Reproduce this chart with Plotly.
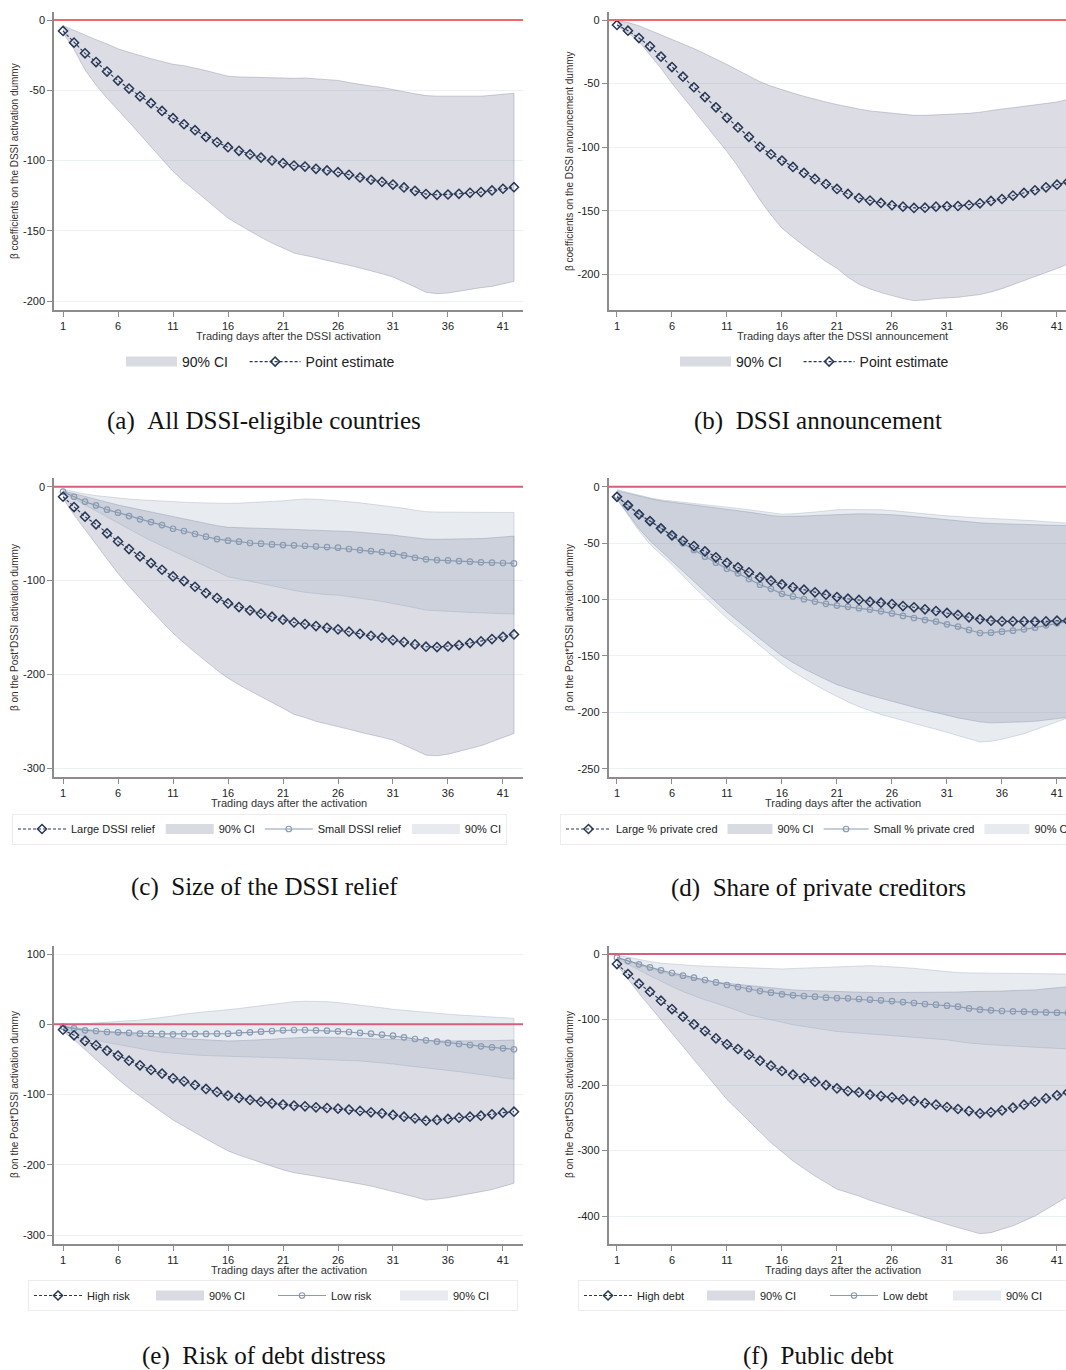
import plotly.graph_objects as go

# ---------------- data ----------------
days = list(range(1, 43))
xtick_vals = [1, 6, 11, 16, 21, 26, 31, 36, 41]

# (a) All DSSI-eligible countries
a_point = [-7.8, -16.1, -23.7, -29.9, -36.7, -43.1, -48.8, -54.3, -59.2, -64.7, -69.9, -74.2, -78.4, -83.2,
           -87.0, -90.5, -93.1, -95.7, -97.9, -100.0, -101.9, -103.6, -104.3, -105.9, -107.1, -108.3, -110.2,
           -112.1, -113.7, -115.2, -117.1, -119.2, -121.6, -123.9, -124.4, -124.2, -123.7, -123.0, -122.5,
           -121.3, -120.1, -119.0]
a_upper = [-4.0, -7.5, -11.0, -14.0, -17.0, -20.5, -23.0, -25.5, -27.5, -29.5, -31.5, -32.5, -34.0, -36.0,
           -38.0, -40.0, -40.5, -40.8, -41.0, -41.3, -41.5, -41.5, -41.3, -41.8, -42.5, -43.0, -44.5, -46.0,
           -47.0, -48.0, -49.3, -51.0, -52.5, -53.8, -54.2, -54.3, -54.5, -54.5, -54.2, -53.6, -53.0, -52.1]
a_lower = [-9.0, -20.9, -35.5, -46.2, -55.7, -64.0, -72.6, -81.3, -90.0, -98.8, -107.8, -114.9, -121.3, -128.0,
           -134.6, -141.0, -145.7, -150.5, -154.7, -158.8, -162.3, -165.9, -167.5, -169.2, -171.1, -173.0,
           -174.6, -176.5, -178.4, -180.6, -182.9, -186.3, -190.0, -193.8, -194.8, -194.3, -193.4, -191.7,
           -190.5, -189.6, -187.9, -186.0]

# (b) DSSI announcement
b_point = [-3.9, -8.4, -14.2, -20.7, -28.8, -37.0, -44.6, -52.9, -60.6, -68.7, -76.9, -84.5, -91.9, -99.7,
           -105.6, -110.6, -115.6, -120.3, -125.0, -129.0, -132.9, -136.8, -140.0, -142.0, -143.9, -145.7,
           -146.8, -147.8, -147.6, -146.8, -146.5, -146.3, -145.5, -144.2, -142.3, -140.8, -138.1, -136.0,
           -133.9, -131.6, -129.5, -127.4]
b_upper = [-0.5, -2.0, -4.5, -8.0, -11.8, -15.5, -19.0, -22.5, -26.5, -30.5, -35.0, -39.5, -44.0, -48.5,
           -52.0, -55.0, -57.5, -60.0, -62.5, -64.5, -66.5, -68.5, -70.0, -71.5, -72.5, -73.5, -74.3, -75.0,
           -75.0, -74.7, -74.3, -74.0, -73.4, -72.5, -71.0, -70.0, -69.0, -67.8, -67.0, -66.0, -64.5, -62.5]
b_lower = [-4.7, -10.0, -17.0, -27.5, -38.0, -49.8, -60.6, -71.4, -82.0, -92.8, -103.5, -115.3, -128.4, -141.5,
           -153.3, -163.8, -170.9, -177.7, -184.0, -190.0, -195.3, -202.4, -207.9, -211.5, -214.4, -216.8,
           -219.1, -220.7, -220.2, -219.1, -218.6, -218.1, -217.0, -216.0, -213.9, -211.3, -208.4, -205.2,
           -201.8, -198.7, -195.5, -191.9]

# (c) Size of the DSSI relief
c_large = [-10.7, -21.7, -32.0, -40.1, -49.7, -58.3, -66.4, -74.2, -81.4, -88.5, -95.6, -100.5, -106.6, -113.3,
           -118.6, -124.3, -128.2, -131.8, -135.3, -138.5, -141.7, -144.6, -146.4, -148.5, -150.3, -152.0,
           -154.5, -156.7, -158.8, -160.9, -163.4, -165.5, -168.0, -170.5, -170.9, -170.2, -168.7, -166.6,
           -164.8, -162.3, -159.9, -157.4]
c_large_upper = [-4.3, -7.5, -10.7, -13.5, -16.5, -19.5, -22.0, -24.5, -27.0, -29.5, -32.0, -34.5, -37.0, -39.5,
                 -41.5, -43.3, -43.8, -44.2, -44.5, -44.8, -45.1, -45.5, -45.8, -46.2, -46.5, -46.9, -47.7,
                 -48.5, -49.3, -50.2, -51.5, -53.0, -54.5, -55.8, -56.0, -56.0, -56.0, -55.8, -55.3, -54.5,
                 -53.5, -52.6]
c_large_lower = [-12.4, -30.0, -46.0, -61.5, -77.0, -92.4, -106.0, -119.0, -132.0, -144.0, -156.0, -166.5,
                 -176.5, -186.5, -195.5, -204.0, -211.0, -217.5, -224.0, -230.0, -236.0, -242.6, -246.0,
                 -250.0, -253.0, -255.8, -258.5, -261.5, -264.5, -267.0, -270.0, -275.0, -280.5, -286.0,
                 -286.7, -285.0, -282.4, -279.0, -276.0, -271.8, -267.5, -262.9]
c_small = [-5.3, -10.7, -16.0, -19.9, -24.5, -27.7, -31.3, -34.8, -37.7, -40.9, -44.8, -47.2, -50.4, -53.3,
           -55.8, -57.5, -58.6, -60.0, -60.7, -61.5, -62.2, -62.5, -62.9, -63.6, -64.3, -65.0, -66.4, -67.5,
           -68.6, -69.6, -71.4, -73.2, -75.7, -77.4, -78.2, -78.5, -79.2, -79.9, -80.6, -81.0, -81.3, -81.7]
c_small_upper = [-2.8, -5.5, -7.8, -9.5, -11.0, -12.4, -13.2, -14.0, -14.8, -15.5, -16.0, -16.5, -17.0, -17.5,
                 -17.8, -17.8, -17.5, -17.0, -16.5, -16.0, -15.0, -14.0, -13.1, -13.3, -14.0, -15.0, -16.0,
                 -17.2, -18.5, -19.8, -21.3, -23.0, -25.0, -26.6, -27.0, -27.2, -27.4, -27.4, -27.4, -27.4,
                 -27.4, -27.4]
c_small_lower = [-7.0, -13.0, -19.5, -26.0, -32.5, -39.0, -45.0, -51.5, -57.5, -63.5, -69.3, -74.5, -80.0, -85.0,
                 -90.5, -95.9, -98.5, -101.0, -103.5, -106.0, -108.0, -110.5, -112.5, -114.0, -115.0, -115.5,
                 -117.0, -118.8, -120.5, -122.3, -124.3, -126.5, -129.0, -131.5, -132.2, -132.8, -133.4,
                 -134.0, -134.5, -135.0, -135.4, -135.7]

# (d) Share of private creditors
d_large = [-8.9, -16.5, -24.5, -30.4, -36.9, -43.1, -47.9, -52.6, -57.3, -62.6, -67.4, -71.5, -75.9, -80.4,
           -83.3, -86.6, -89.2, -91.3, -93.6, -95.7, -97.8, -99.3, -100.4, -101.9, -102.8, -104.0, -105.8,
           -106.9, -108.7, -110.2, -111.9, -113.7, -115.8, -117.5, -118.8, -119.4, -119.4, -119.4, -119.6,
           -119.4, -118.8, -118.8]
d_large_upper = [-3.5, -6.0, -8.5, -10.5, -12.5, -13.7, -14.8, -16.2, -17.5, -18.7, -19.8, -21.2, -22.5, -24.0,
                 -25.5, -26.3, -26.3, -26.0, -25.5, -25.0, -24.5, -24.2, -24.0, -24.1, -24.3, -24.8, -25.5,
                 -26.5, -27.5, -28.5, -29.5, -30.5, -31.5, -32.0, -32.5, -32.9, -33.2, -33.5, -33.8, -34.0,
                 -34.2, -34.4]
d_large_lower = [-11.0, -24.0, -37.0, -48.0, -57.0, -66.0, -75.0, -84.0, -93.0, -102.0, -111.0, -119.0, -127.0,
                 -135.0, -142.5, -150.0, -156.0, -161.5, -166.5, -171.0, -175.5, -179.0, -182.0, -185.0,
                 -188.0, -190.5, -193.0, -195.5, -198.0, -200.5, -202.6, -205.0, -207.0, -208.5, -209.4,
                 -209.3, -209.0, -208.5, -208.0, -207.0, -205.6, -204.5]
d_small = [-8.3, -16.2, -24.5, -30.4, -37.2, -43.4, -50.2, -56.1, -62.0, -67.4, -72.7, -76.8, -81.8, -86.9,
           -90.5, -95.0, -97.3, -99.7, -101.8, -103.8, -105.4, -106.5, -107.7, -108.9, -110.5, -112.3, -114.6,
           -116.4, -118.2, -119.6, -122.0, -124.0, -127.0, -129.7, -129.4, -128.5, -127.6, -126.4, -125.0,
           -122.9, -121.1, -119.6]
d_small_upper = [-2.7, -5.2, -7.7, -9.8, -11.6, -12.6, -13.6, -14.8, -16.0, -17.0, -18.0, -19.2, -20.4, -21.9,
                 -23.4, -24.3, -24.0, -23.4, -22.4, -21.4, -20.4, -20.2, -20.1, -20.2, -20.4, -21.1, -21.9,
                 -23.0, -24.0, -24.9, -25.8, -26.6, -27.3, -27.7, -28.1, -28.5, -29.0, -29.6, -30.2, -31.0,
                 -31.7, -32.2]
d_small_lower = [-11.0, -25.0, -39.0, -51.0, -60.0, -69.0, -79.0, -89.0, -98.5, -107.5, -116.7, -125.0, -133.0,
                 -141.0, -149.0, -157.0, -164.0, -170.0, -175.5, -181.0, -186.0, -190.8, -195.0, -198.5,
                 -202.0, -205.0, -207.5, -210.0, -212.5, -215.0, -217.5, -220.5, -223.5, -226.3, -225.7,
                 -224.0, -221.5, -219.0, -216.0, -212.5, -208.5, -205.0]

# (e) Risk of debt distress
e_high = [-7.6, -15.6, -23.7, -29.9, -37.4, -44.5, -51.7, -58.3, -64.9, -70.1, -76.8, -81.0, -86.3, -91.9,
          -96.2, -101.4, -104.7, -107.6, -110.0, -112.3, -114.2, -115.6, -116.6, -118.0, -119.0, -119.9, -121.3,
          -123.2, -125.1, -126.5, -128.9, -131.3, -133.6, -137.0, -136.0, -134.6, -132.7, -131.3, -129.9,
          -128.0, -125.6, -124.2]
e_high_upper = [-2.4, -4.8, -7.0, -9.0, -11.0, -12.6, -14.2, -15.8, -17.2, -18.5, -19.5, -20.5, -21.3, -22.3,
                -23.2, -23.7, -23.3, -22.8, -22.3, -21.2, -20.0, -19.0, -18.5, -18.2, -18.0, -18.6, -19.3,
                -19.9, -20.4, -20.8, -21.3, -22.0, -22.6, -23.2, -23.5, -23.6, -23.7, -23.5, -23.4, -23.2,
                -22.8, -22.3]
e_high_lower = [-10.0, -22.0, -36.0, -50.0, -64.0, -78.0, -91.0, -103.0, -114.0, -125.0, -136.0, -145.0,
                -154.0, -163.0, -172.0, -180.0, -186.0, -191.5, -197.0, -202.0, -207.0, -211.0, -213.5,
                -216.0, -218.5, -221.0, -224.0, -227.0, -230.0, -233.5, -237.5, -241.5, -245.5, -250.0,
                -248.5, -246.5, -244.0, -241.0, -238.0, -235.0, -231.0, -226.0]
e_low = [-3.3, -5.7, -8.5, -9.5, -10.9, -11.4, -12.3, -13.3, -13.3, -13.7, -14.2, -13.7, -13.7, -13.7, -13.3,
         -13.3, -12.3, -11.4, -10.4, -9.5, -8.5, -8.1, -8.1, -8.5, -9.0, -10.0, -10.9, -12.3, -13.3, -14.7,
         -16.1, -18.5, -20.9, -22.7, -24.6, -26.5, -28.0, -29.4, -31.3, -32.7, -34.1, -35.5]
e_low_upper = [-1.0, 0.0, 0.8, 1.4, 2.5, 3.5, 4.7, 6.0, 7.8, 9.5, 12.0, 14.5, 16.6, 18.0, 19.2, 20.4, 22.5,
               24.5, 26.5, 28.5, 30.5, 32.2, 32.8, 32.8, 32.2, 31.0, 29.3, 27.5, 25.5, 23.5, 21.3, 19.8, 18.2,
               16.6, 15.5, 14.4, 13.3, 12.2, 11.1, 10.0, 9.2, 8.5]
e_low_lower = [-5.7, -12.0, -17.5, -22.3, -26.0, -29.0, -31.8, -34.5, -37.3, -39.8, -41.3, -42.5, -43.6, -44.5,
               -45.3, -46.0, -46.3, -46.6, -46.9, -47.4, -47.9, -48.3, -49.0, -49.9, -50.7, -51.2, -51.6, -52.0,
               -53.3, -54.8, -56.4, -58.4, -60.5, -62.6, -64.2, -65.7, -67.3, -69.4, -71.5, -73.5, -75.8, -78.2]

# (f) Public debt
f_high = [-15.3, -30.5, -45.3, -57.5, -71.2, -84.0, -95.7, -107.4, -117.6, -128.8, -137.9, -145.0, -153.7,
          -162.8, -170.5, -178.6, -184.2, -189.3, -194.9, -200.0, -205.1, -209.2, -211.2, -214.8, -216.8,
          -218.8, -221.9, -224.4, -227.5, -230.0, -233.6, -236.6, -239.7, -243.3, -241.7, -238.7, -234.6,
          -230.0, -225.4, -220.4, -215.8, -211.2]
f_high_upper = [-5.0, -11.0, -16.8, -22.0, -27.0, -31.0, -34.5, -37.7, -40.6, -42.8, -44.7, -46.5, -48.2, -49.8,
                -51.3, -53.0, -54.8, -55.6, -56.3, -56.9, -57.4, -57.9, -58.4, -58.7, -58.9, -58.9, -58.9,
                -58.7, -58.4, -58.4, -58.4, -58.0, -57.4, -57.4, -57.4, -56.6, -55.8, -55.3, -54.8, -53.0,
                -51.3, -50.0]
f_high_lower = [-16.8, -38.0, -60.0, -80.0, -100.5, -121.0, -141.0, -161.0, -181.7, -202.0, -222.0, -238.5,
                -255.0, -271.5, -288.0, -302.0, -316.0, -327.5, -339.0, -349.0, -359.0, -364.0, -369.5,
                -376.0, -382.0, -387.0, -392.0, -397.0, -402.5, -407.5, -412.7, -417.7, -422.8, -427.0,
                -425.4, -420.0, -415.0, -407.5, -400.0, -390.0, -379.7, -370.0]
f_low = [-5.6, -10.7, -15.8, -20.4, -24.9, -29.0, -33.1, -36.1, -39.7, -43.3, -47.3, -50.4, -53.4, -56.5, -59.0,
         -61.6, -63.1, -64.1, -65.1, -66.7, -67.2, -67.7, -68.7, -69.7, -70.7, -71.8, -73.3, -74.8, -76.3, -77.4,
         -78.9, -80.4, -83.0, -85.0, -86.0, -87.0, -87.5, -88.0, -88.5, -89.1, -89.6, -90.0]
f_low_upper = [-1.5, -5.0, -9.0, -11.5, -14.0, -15.5, -16.8, -17.7, -18.5, -19.3, -20.0, -20.7, -21.3, -21.8,
               -22.3, -22.8, -22.3, -21.8, -21.3, -20.6, -20.0, -19.3, -18.5, -17.8, -18.5, -19.3, -20.5, -21.8,
               -23.6, -25.4, -27.0, -28.4, -28.8, -29.1, -29.4, -29.6, -29.8, -30.0, -30.2, -30.3, -30.5, -30.6]
f_low_lower = [-6.6, -15.5, -24.4, -33.2, -42.0, -49.7, -57.4, -63.7, -70.0, -75.1, -80.2, -86.5, -92.9, -96.7,
               -100.5, -104.2, -108.0, -110.6, -113.2, -115.8, -118.3, -119.6, -120.8, -122.1, -123.4, -124.6,
               -125.9, -127.2, -128.4, -129.7, -131.0, -133.5, -136.0, -137.3, -138.6, -139.8, -141.0, -141.8,
               -142.6, -143.4, -144.2, -145.0]

# ---------------- styling ----------------
W, H = 1066, 1370
SANS = "Liberation Sans, Arial, sans-serif"
SERIF = "Liberation Serif, Times New Roman, serif"
NAVY = "#283756"
STEEL = "#8a9bb2"
AXIS = "#8c8c8c"
GRID = "#eaf2f3"
FILL_L = "rgba(120,125,150,0.26)"
EDGE_L = "rgba(120,125,155,0.45)"
FILL_S = "rgba(150,170,190,0.22)"
EDGE_S = "rgba(150,165,185,0.45)"
SWATCH_L = "#d9dbe2"
SWATCH_S = "#e7eaee"
NBSP = "\u00a0"


def fx(p):
    return p / W


def fy(p):
    return 1 - p / H


X_DOM = {0: [fx(54), fx(523)], 1: [fx(608.5), 1.0]}
X_RNG = {0: [0.18, 42.82], 1: [0.23, 41.82]}
Y_DOM = {0: [fy(310), fy(12)], 1: [fy(777), fy(477.5)], 2: [fy(1244), fy(945.7)]}
X_CENTER = {0: 288.5, 1: 842.5}
CAP_X = {0: 264, 1: 818}
YT_X = {0: 14, 1: 569}

# legend placement: left edge x, centre y, symbol width, fixed entry width (0 = text width)
panels = [
    dict(col=0, row=0, yrange=[-206.4, 5.7], yticks=[0, -50, -100, -150, -200],
         ytitle="β coefficients on the DSSI activation dummy",
         xtitle="Trading days after the DSSI activation", xt_y=336, yt_y=161,
         caption="(a)\u2002All DSSI-eligible countries", cap_y=421, red="#f0686a",
         kind="single", big=(a_point, a_upper, a_lower),
         leg=dict(x=121, y=362, iw=51, ew=0, size=14, box=False)),
    dict(col=1, row=0, yrange=[-228.1, 6.3], yticks=[0, -50, -100, -150, -200],
         ytitle="β coefficients on the DSSI announcement dummy",
         xtitle="Trading days after the DSSI announcement", xt_y=336, yt_y=161,
         caption="(b)\u2002DSSI announcement", cap_y=421, red="#f0686a",
         kind="single", big=(b_point, b_upper, b_lower),
         leg=dict(x=675, y=362, iw=51, ew=0, size=14, box=False)),
    dict(col=0, row=1, yrange=[-309.3, 9.8], yticks=[0, -100, -200, -300],
         ytitle="β on the Post*DSSI activation dummy",
         xtitle="Trading days after the activation", xt_y=803, yt_y=628,
         caption="(c)\u2002Size of the DSSI relief", cap_y=887, red="#d65f7d",
         kind="pair", names=("Large DSSI relief", "Small DSSI relief"),
         big=(c_large, c_large_upper, c_large_lower), small=(c_small, c_small_upper, c_small_lower),
         leg=dict(x=12, y=829, iw=48, ew=0, size=11, box=True)),
    dict(col=1, row=1, yrange=[-257.4, 8.2], yticks=[0, -50, -100, -150, -200, -250],
         ytitle="β on the Post*DSSI activation dummy",
         xtitle="Trading days after the activation", xt_y=803, yt_y=628,
         caption="(d)\u2002Share of private creditors", cap_y=888, red="#d65f7d",
         kind="pair", names=("Large % private cred", "Small % private cred"),
         big=(d_large, d_large_upper, d_large_lower), small=(d_small, d_small_upper, d_small_lower),
         leg=dict(x=560, y=829, iw=45, ew=0, size=11, box=True)),
    dict(col=0, row=2, yrange=[-312.4, 111.8], yticks=[100, 0, -100, -200, -300],
         ytitle="β on the Post*DSSI activation dummy",
         xtitle="Trading days after the activation", xt_y=1270, yt_y=1095,
         caption="(e)\u2002Risk of debt distress", cap_y=1356, red="#d65f7d",
         kind="pair", names=("High risk", "Low risk"),
         big=(e_high, e_high_upper, e_high_lower), small=(e_low, e_low_upper, e_low_lower),
         leg=dict(x=28, y=1295.5, iw=48, ew=59, size=11, box=True)),
    dict(col=1, row=2, yrange=[-442.7, 12.7], yticks=[0, -100, -200, -300, -400],
         ytitle="β on the Post*DSSI activation dummy",
         xtitle="Trading days after the activation", xt_y=1270, yt_y=1095,
         caption="(f)\u2002Public debt", cap_y=1356, red="#d65f7d",
         kind="pair", names=("High debt", "Low debt"),
         big=(f_high, f_high_upper, f_high_lower), small=(f_low, f_low_upper, f_low_lower),
         leg=dict(x=578, y=1295.5, iw=48, ew=60, size=11, box=True)),
]

fig = go.Figure()
layout = dict(width=W, height=H, margin=dict(l=0, r=0, t=0, b=0, autoexpand=False),
              paper_bgcolor="white", plot_bgcolor="white", showlegend=True,
              font=dict(family=SANS, color="#222"), annotations=[], shapes=[])


def band_trace(ax, upper, lower, fill, edge):
    xs = days + days[::-1]
    ys = list(upper) + list(lower)[::-1]
    return go.Scatter(x=xs, y=ys, mode="lines", fill="toself", fillcolor=fill,
                      line=dict(color=edge, width=0.8), showlegend=False,
                      xaxis="x" + ax, yaxis="y" + ax, hoverinfo="skip")


def swatch_trace(ax, color, name, legend, rank):
    # legend-only key for a confidence band (no data points drawn)
    return go.Scatter(x=[None], y=[None], mode="lines", line=dict(color=color, width=13),
                      name=name, legend=legend, legendrank=rank, xaxis="x" + ax, yaxis="y" + ax,
                      hoverinfo="skip")


def diamond_trace(ax, vals, name, legend, rank):
    return go.Scatter(x=days, y=vals, mode="lines+markers", name=name, legend=legend, legendrank=rank,
                      line=dict(color=NAVY, width=1.1, dash="3px,2px"),
                      marker=dict(symbol="diamond-open", size=7, color=NAVY, line=dict(width=1.5, color=NAVY)),
                      xaxis="x" + ax, yaxis="y" + ax)


def circle_trace(ax, vals, name, legend, rank):
    return go.Scatter(x=days, y=vals, mode="lines+markers", name=name, legend=legend, legendrank=rank,
                      line=dict(color=STEEL, width=1.2),
                      marker=dict(symbol="circle-open", size=5.5, color=STEEL, line=dict(width=1.2, color=STEEL)),
                      xaxis="x" + ax, yaxis="y" + ax)


for i, p in enumerate(panels):
    n = "" if i == 0 else str(i + 1)
    legname = "legend" + n
    col, row = p["col"], p["row"]
    L = p["leg"]

    if p["kind"] == "single":
        pt, up, lo = p["big"]
        fig.add_trace(band_trace(n, up, lo, FILL_L, EDGE_L))
        # trailing no-break spaces widen the gap before the next key, as in the original
        fig.add_trace(swatch_trace(n, SWATCH_L, "90% CI" + NBSP * 3, legname, 1))
        fig.add_trace(diamond_trace(n, pt, "Point estimate", legname, 2))
    else:
        bpt, bup, blo = p["big"]
        spt, sup, slo = p["small"]
        fig.add_trace(band_trace(n, bup, blo, FILL_L, EDGE_L))
        fig.add_trace(band_trace(n, sup, slo, FILL_S, EDGE_S))
        fig.add_trace(swatch_trace(n, SWATCH_L, "90% CI", legname, 2))
        fig.add_trace(swatch_trace(n, SWATCH_S, "90% CI", legname, 4))
        fig.add_trace(circle_trace(n, spt, p["names"][1], legname, 3))
        fig.add_trace(diamond_trace(n, bpt, p["names"][0], legname, 1))

    lg = dict(orientation="h", x=fx(L["x"]), xanchor="left", y=fy(L["y"]), yanchor="middle",
              itemwidth=L["iw"], font=dict(size=L["size"], family=SANS, color="#222"))
    if L["box"]:
        lg.update(bgcolor="white", bordercolor="#ececec", borderwidth=1)
    else:
        lg.update(bgcolor="rgba(0,0,0,0)", borderwidth=0)
    if L["ew"]:
        lg.update(entrywidth=L["ew"], entrywidthmode="pixels")
    layout[legname] = lg

    layout["xaxis" + n] = dict(domain=X_DOM[col], range=X_RNG[col], anchor="y" + n,
                               tickmode="array", tickvals=xtick_vals, ticktext=[str(v) for v in xtick_vals],
                               ticks="outside", ticklen=5, tickwidth=1, tickcolor=AXIS,
                               showline=True, linecolor=AXIS, linewidth=1.5, showgrid=False, zeroline=False,
                               tickfont=dict(size=11, family=SANS, color="#222"), fixedrange=True)
    layout["yaxis" + n] = dict(domain=Y_DOM[row], range=p["yrange"], anchor="x" + n,
                               tickmode="array", tickvals=p["yticks"], ticktext=[str(v) for v in p["yticks"]],
                               ticks="outside", ticklen=5, tickwidth=1, tickcolor=AXIS,
                               showline=True, linecolor=AXIS, linewidth=1.5,
                               showgrid=True, gridcolor=GRID, gridwidth=1, zeroline=False,
                               tickfont=dict(size=11, family=SANS, color="#222"), fixedrange=True)

    # zero reference line
    layout["shapes"].append(dict(type="line", xref="x" + n + " domain", x0=0, x1=1,
                                 yref="y" + n, y0=0, y1=0, line=dict(color=p["red"], width=2),
                                 layer="above"))
    # axis titles
    layout["annotations"].append(dict(text=p["xtitle"], xref="paper", yref="paper",
                                      x=fx(X_CENTER[col]), y=fy(p["xt_y"]), xanchor="center",
                                      yanchor="middle", showarrow=False,
                                      font=dict(size=11, family=SANS, color="#333")))
    layout["annotations"].append(dict(text=p["ytitle"], xref="paper", yref="paper",
                                      x=fx(YT_X[col]), y=fy(p["yt_y"]), xanchor="center",
                                      yanchor="middle", textangle=-90, showarrow=False,
                                      font=dict(size=10, family=SANS, color="#3a3030")))
    # caption
    layout["annotations"].append(dict(text=p["caption"], xref="paper", yref="paper",
                                      x=fx(CAP_X[col]), y=fy(p["cap_y"]), xanchor="center",
                                      yanchor="middle", showarrow=False,
                                      font=dict(size=25, family=SERIF, color="#111")))

fig.update_layout(**layout)
fig.write_html("out.html", config={"displayModeBar": False},
               post_script="document.body.style.margin='0px';")
